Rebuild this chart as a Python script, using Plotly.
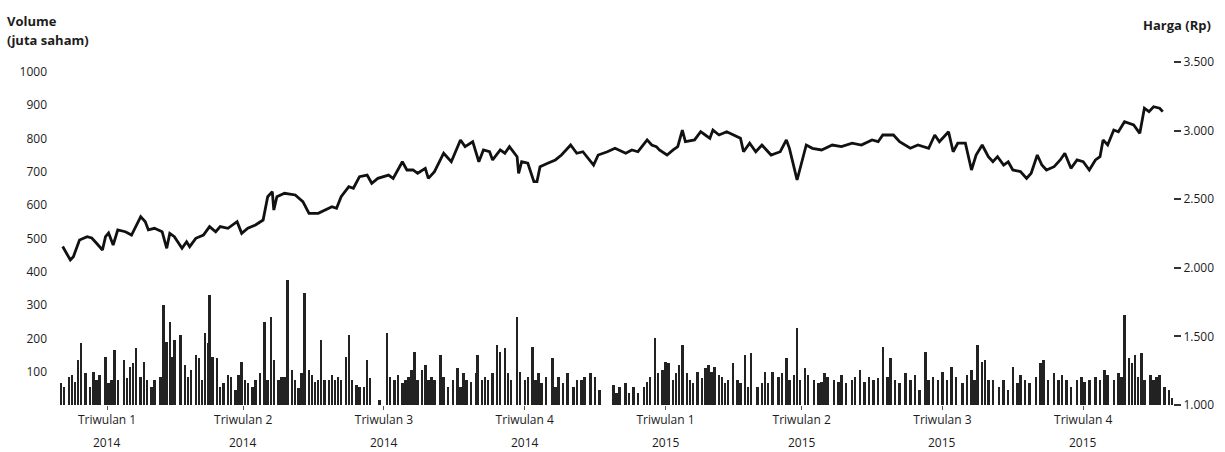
import datetime as dt
import plotly.graph_objects as go

awal = dt.datetime(2014, 1, 1)

# Harga saham (Rp) — hari ke-n sejak 1 Jan 2014
price_hari = [
    2, 7, 9, 13, 18, 21, 24, 28, 30, 32,
    35, 38, 43, 47, 53, 56, 58, 62, 67, 70,
    72, 75, 80, 83, 85, 89, 94, 98, 102, 105,
    110, 116, 119, 123, 128, 133, 136, 139, 140, 142,
    147, 154, 159, 163, 169, 173, 178, 181, 184, 189,
    192, 196, 201, 204, 208, 215, 218, 224, 227, 231,
    234, 239, 241, 245, 251, 256, 262, 265, 270, 274,
    277, 281, 283, 288, 291, 294, 299, 300, 302, 306,
    310, 312, 314, 319, 324, 328, 334, 338, 342, 349,
    352, 358, 363, 370, 374, 378, 384, 387, 390, 392,
    397, 401, 404, 407, 409, 415, 419, 422, 425, 427,
    431, 436, 440, 445, 447, 451, 455, 459, 465, 471,
    475, 477, 482, 485, 488, 492, 498, 505, 511, 518,
    524, 531, 535, 538, 545, 549, 556, 561, 568, 572,
    575, 581, 584, 587, 592, 596, 599, 603, 607, 610,
    613, 617, 620, 623, 628, 632, 635, 639, 642, 645,
    650, 654, 657, 661, 665, 669, 673, 677, 680, 682,
    685, 689, 692, 696, 702, 706, 709, 712, 715, 719,
    721,
]
price = [
    2155, 2057, 2081, 2203, 2227, 2217, 2181, 2130, 2227, 2254,
    2166, 2276, 2263, 2239, 2373, 2336, 2276, 2288, 2263, 2142,
    2251, 2227, 2142, 2190, 2154, 2215, 2239, 2300, 2263, 2300,
    2288, 2336, 2251, 2288, 2312, 2348, 2518, 2555, 2421, 2518,
    2543, 2531, 2482, 2397, 2397, 2421, 2445, 2434, 2518, 2591,
    2580, 2664, 2676, 2616, 2652, 2676, 2652, 2773, 2713, 2713,
    2689, 2725, 2652, 2701, 2835, 2773, 2932, 2883, 2919, 2773,
    2859, 2846, 2786, 2859, 2835, 2883, 2810, 2689, 2773, 2762,
    2628, 2628, 2737, 2762, 2786, 2822, 2895, 2835, 2846, 2749,
    2822, 2846, 2871, 2835, 2859, 2846, 2932, 2895, 2883, 2859,
    2822, 2859, 2883, 3004, 2919, 2932, 2992, 2968, 2944, 3004,
    2968, 2992, 2968, 2944, 2846, 2908, 2846, 2895, 2822, 2846,
    2932, 2871, 2640, 2762, 2895, 2871, 2859, 2895, 2883, 2908,
    2895, 2932, 2919, 2968, 2968, 2919, 2871, 2895, 2871, 2968,
    2919, 2992, 2846, 2908, 2908, 2713, 2822, 2895, 2810, 2773,
    2810, 2749, 2773, 2713, 2701, 2652, 2689, 2822, 2749, 2713,
    2737, 2786, 2835, 2725, 2786, 2773, 2713, 2786, 2810, 2932,
    2895, 3004, 2992, 3065, 3041, 2980, 3163, 3138, 3174, 3163,
    3138,
]

# Volume (juta saham)
volume_hari = [
    1, 3, 6, 8, 10, 12, 14, 17, 20, 22,
    24, 26, 30, 32, 34, 36, 38, 42, 44, 46,
    48, 50, 53, 55, 57, 60, 62, 66, 68, 70,
    72, 73, 75, 79, 82, 84, 86, 89, 91, 93,
    95, 97, 98, 100, 103, 105, 107, 110, 112, 115,
    117, 119, 121, 123, 126, 128, 131, 134, 136, 138,
    140, 143, 145, 147, 149, 152, 154, 156, 158, 160,
    163, 165, 167, 169, 171, 173, 176, 178, 180, 182,
    184, 187, 189, 191, 194, 196, 199, 201, 203, 209,
    214, 216, 219, 221,
    224, 226, 228, 230, 232, 234, 237, 239, 241, 243,
    245, 249, 251, 254, 257, 260, 262, 264, 266, 269,
    272, 273, 276, 278, 280, 283, 286, 288, 291, 293,
    295, 299, 301, 304, 306, 309, 311, 313, 315, 318,
    322, 324, 326, 329, 332, 336, 338, 341, 343, 347,
    350, 353, 362, 364, 366, 370, 372, 375, 378, 382,
    384, 386, 389, 391, 394, 396, 398, 401, 403, 405,
    407, 410, 412, 414, 417, 420, 422, 424, 426, 428,
    431, 433, 435, 437, 440, 443, 445, 448, 450, 452,
    456, 459, 461, 463, 466, 470, 472, 475, 477, 480,
    482, 484, 487, 489, 493, 496,
    498, 500, 502, 506, 509, 511, 514, 518, 520, 523,
    526, 529, 532, 535, 538, 541, 543, 546, 549, 553,
    556, 559, 562, 566, 568, 571, 574, 577, 580, 583,
    586, 590, 593, 596, 598, 600, 603, 605, 607, 610,
    614, 617, 620, 623, 626, 628, 631, 634, 638, 641,
    643, 646, 650, 653, 655, 658, 661, 665, 668, 670,
    673, 677, 680, 683, 685, 689, 692, 694, 696, 699,
    701, 703, 705, 707, 709, 713, 715, 717, 719, 722,
    725, 727,
]
volume = [
    65, 55, 85, 90, 70, 135, 185, 95, 55, 100,
    75, 90, 145, 65, 75, 165, 75, 135, 80, 115,
    125, 170, 85, 130, 75, 55, 75, 85, 300, 190,
    250, 145, 195, 210, 120, 85, 105, 150, 140, 75,
    215, 185, 330, 145, 140, 55, 65, 90, 85, 45,
    90, 130, 75, 65, 55, 75, 95, 250, 75, 265,
    135, 75, 85, 85, 375, 105, 75, 50, 95, 335,
    105, 90, 70, 75, 195, 75, 75, 90, 75, 85,
    75, 145, 210, 75, 60, 55, 55, 135, 80, 15,
    215, 85, 75, 90,
    65, 75, 85, 105, 160, 75, 105, 120, 75, 85,
    75, 150, 85, 55, 75, 110, 55, 95, 75, 70,
    95, 150, 75, 85, 75, 95, 180, 160, 170, 95,
    75, 265, 100, 75, 85, 175, 75, 95, 65, 85,
    140, 55, 85, 65, 95, 55, 75, 75, 85, 95,
    85, 45, 60, 35, 55, 65, 35, 55, 35, 55,
    70, 85, 200, 95, 105, 130, 125, 75, 95, 120,
    180, 95, 75, 65, 100, 80, 110, 120, 100, 115,
    90, 85, 65, 75, 125, 75, 65, 150, 55, 155,
    55, 65, 100, 65, 100, 85, 95, 140, 75, 90,
    230, 75, 110, 90, 75, 65,
    70, 95, 85, 75, 70, 90, 65, 75, 85, 105,
    70, 85, 75, 80, 175, 85, 140, 75, 65, 95,
    75, 90, 45, 160, 75, 85, 75, 100, 75, 115,
    85, 65, 90, 105, 75, 180, 130, 135, 75, 75,
    55, 75, 45, 115, 65, 90, 75, 65, 85, 125,
    135, 75, 95, 75, 90, 75, 55, 75, 85, 70,
    75, 85, 75, 105, 90, 75, 95, 85, 270, 140,
    125, 150, 85, 155, 75, 90, 75, 85, 90, 55,
    45, 20,
]

triwulan_tanggal = ["2014-02-01", "2014-05-01", "2014-08-01", "2014-11-01",
                    "2015-02-01", "2015-05-01", "2015-08-01", "2015-11-01"]
triwulan_label = ["Triwulan 1", "Triwulan 2", "Triwulan 3", "Triwulan 4",
                  "Triwulan 1", "Triwulan 2", "Triwulan 3", "Triwulan 4"]
triwulan_tahun = ["2014", "2014", "2014", "2014", "2015", "2015", "2015", "2015"]

volume_ticks = [100, 200, 300, 400, 500, 600, 700, 800, 900, 1000]
harga_ticks = [1000, 1500, 2000, 2500, 3000, 3500]
harga_tick_labels = ["1.000", "1.500", "2.000", "2.500", "3.000", "3.500"]

price_x = [awal + dt.timedelta(days=d) for d in price_hari]
volume_x = [awal + dt.timedelta(days=d) for d in volume_hari]

FONT = "Open Sans"
INK = "#1c1c1c"

fig = go.Figure()
fig.add_trace(go.Bar(
    x=volume_x, y=volume, yaxis="y",
    marker=dict(color="#222222", line=dict(width=0)),
    width=1.6 * 86400000, name="Volume",
))
fig.add_trace(go.Scatter(
    x=price_x, y=price, yaxis="y2", mode="lines",
    line=dict(color="#111111", width=2.8), name="Harga",
))

annotations = [
    dict(text="<b>Volume</b>", xref="paper", yref="paper", x=-55/1113, y=1 + 41/343,
         xanchor="left", yanchor="middle", showarrow=False,
         font=dict(family=FONT, size=13, color=INK)),
    dict(text="<b>(juta saham)</b>", xref="paper", yref="paper", x=-55/1113, y=1 + 22/343,
         xanchor="left", yanchor="middle", showarrow=False,
         font=dict(family=FONT, size=13, color=INK)),
    dict(text="<b>Harga (Rp)</b>", xref="paper", yref="paper", x=1 + 40/1113, y=1 + 37/343,
         xanchor="right", yanchor="middle", showarrow=False,
         font=dict(family=FONT, size=13, color=INK)),
]
for t, yr in zip(triwulan_tanggal, triwulan_tahun):
    annotations.append(dict(text=yr, x=t, xref="x", yref="paper", y=-37/343,
                            xanchor="center", yanchor="middle", showarrow=False,
                            font=dict(family=FONT, size=12, color=INK)))

fig.update_layout(
    width=1225, height=452,
    margin=dict(l=60, r=52, t=62, b=47),
    paper_bgcolor="white", plot_bgcolor="white",
    showlegend=False, bargap=0,
    font=dict(family=FONT, color=INK),
    xaxis=dict(
        type="date",
        range=[awal + dt.timedelta(hours=6), awal + dt.timedelta(days=727.7)],
        showgrid=False, zeroline=False, showline=False,
        tickmode="array", tickvals=triwulan_tanggal, ticktext=triwulan_label,
        ticks="outside", ticklen=4, tickcolor="#555", tickwidth=1,
        tickfont=dict(family=FONT, size=12, color=INK),
    ),
    yaxis=dict(
        range=[0, 1030], showgrid=False, zeroline=False, showline=False,
        tickmode="array", tickvals=volume_ticks,
        ticks="", ticklabelstandoff=12,
        tickfont=dict(family=FONT, size=12, color=INK),
    ),
    yaxis2=dict(
        range=[1000, 3500], overlaying="y", side="right",
        showgrid=False, zeroline=False, showline=False,
        tickmode="array", tickvals=harga_ticks, ticktext=harga_tick_labels,
        ticks="outside", ticklen=7, tickwidth=1.5, tickcolor="#333",
        tickfont=dict(family=FONT, size=12, color=INK),
    ),
    annotations=annotations,
)

fig.write_html(
    "out.html",
    config={"displayModeBar": False},
    post_script="document.body.style.margin='0px';document.body.style.overflow='hidden';",
)
